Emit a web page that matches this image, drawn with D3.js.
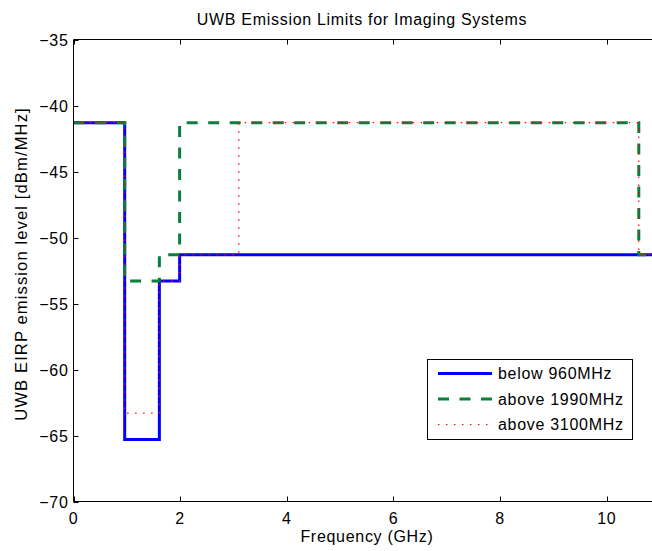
<!DOCTYPE html>
<html>
<head>
<meta charset="utf-8">
<script src="https://cdn.jsdelivr.net/npm/d3@7"></script>
<style>
  body { margin: 0; background: #fff; }
  svg { display: block; font-family: "Liberation Sans", Arial, sans-serif; }
  text { font-size: 16px; letter-spacing: 0.7px; fill: #000; }
</style>
</head>
<body>
<svg id="chart" width="652" height="551"></svg>
<script>
// band edges in GHz (last one = right edge of the axes)
const freqEdges = [0, 0.96, 1.61, 1.99, 3.1, 10.6, 10.86];

// EIRP limit per band, dBm/MHz
const below960 = [-41.3, -65.3, -53.3, -51.3, -51.3, -51.3];
const above1990 = [-41.3, -53.3, -51.3, -41.3, -41.3, -51.3];
const above3100 = [-41.3, -63.3, -53.3, -51.3, -41.3, -51.3];

const seriesNames = ['below 960MHz', 'above 1990MHz', 'above 3100MHz'];
const xTicks = [0, 2, 4, 6, 8, 10];
const yTicks = [-70, -65, -60, -55, -50, -45, -40, -35];

const svg = d3.select('#chart');
const margin = { top: 39.5, left: 73.5, bottom: 501.5 };
const pxPerGHz = 53.33;

const x = d3.scaleLinear()
    .domain([0, 10.86])
    .range([margin.left, margin.left + 10.86 * pxPerGHz]);
const y = d3.scaleLinear()
    .domain([-70, -35])
    .range([margin.bottom, margin.top]);

// step data
const toSteps = vals => {
    const pts = [];
    vals.forEach((v, i) => {
        pts.push([freqEdges[i], v]);
        pts.push([freqEdges[i + 1], v]);
    });
    return pts;
};

const styles = [
    { color: '#0000ff', width: 3, dash: null },
    { color: '#087f3c', width: 3, dash: '11 10.5' },
    { color: '#ff0000', width: 1.2, dash: '1.5 6.5' }
];

const line = d3.line().x(d => x(d[0])).y(d => y(d[1]));

const g = svg.append('g');
[below960, above1990, above3100].forEach((vals, i) => {
    g.append('path')
        .datum(toSteps(vals))
        .attr('d', line)
        .attr('fill', 'none')
        .attr('stroke', styles[i].color)
        .attr('stroke-width', styles[i].width)
        .attr('stroke-dasharray', styles[i].dash);
});

// axes box
const xEnd = 652;
svg.append('line').attr('x1', margin.left).attr('x2', xEnd)
    .attr('y1', margin.bottom).attr('y2', margin.bottom).attr('stroke', '#000');
svg.append('line').attr('x1', margin.left).attr('x2', xEnd)
    .attr('y1', margin.top).attr('y2', margin.top).attr('stroke', '#000');
svg.append('line').attr('x1', margin.left).attr('x2', margin.left)
    .attr('y1', margin.top).attr('y2', margin.bottom).attr('stroke', '#000');

// ticks
xTicks.forEach(v => {
    const px = Math.round(x(v)) + 0.5;
    svg.append('line').attr('x1', px).attr('x2', px)
        .attr('y1', margin.bottom).attr('y2', margin.bottom - 5).attr('stroke', '#000');
    svg.append('line').attr('x1', px).attr('x2', px)
        .attr('y1', margin.top).attr('y2', margin.top + 5).attr('stroke', '#000');
    svg.append('text')
        .attr('x', x(v)).attr('y', 523.5)
        .attr('text-anchor', 'middle')
        .text(v);
});

yTicks.forEach(v => {
    const py = Math.round(y(v)) + 0.5;
    svg.append('line').attr('x1', margin.left).attr('x2', margin.left + 5)
        .attr('y1', py).attr('y2', py).attr('stroke', '#000');
    svg.append('text')
        .attr('x', margin.left - 5).attr('y', y(v) + 6.5)
        .attr('text-anchor', 'end')
        .text(String(v).replace('-', '\u2212'));
});

// labels
svg.append('text')
    .attr('x', 362).attr('y', 25)
    .attr('text-anchor', 'middle')
    .text('UWB Emission Limits for Imaging Systems');

svg.append('text')
    .attr('x', 367).attr('y', 542)
    .attr('text-anchor', 'middle')
    .text('Frequency (GHz)');

svg.append('text')
    .attr('transform', 'translate(27,264) rotate(-90)')
    .attr('text-anchor', 'middle')
    .style('font-size', '16.6px')
    .style('letter-spacing', '1.1px')
    .text('UWB EIRP emission level [dBm/MHz]');

// legend
const leg = svg.append('g');
leg.append('rect')
    .attr('x', 427.5).attr('y', 359.5)
    .attr('width', 205).attr('height', 80)
    .attr('fill', '#fff').attr('stroke', '#000');

seriesNames.forEach((name, i) => {
    const ly = 373.5 + i * 25.5;
    leg.append('line')
        .attr('x1', 438).attr('x2', 492)
        .attr('y1', ly).attr('y2', ly)
        .attr('stroke', styles[i].color)
        .attr('stroke-width', styles[i].width)
        .attr('stroke-dasharray', styles[i].dash);
    leg.append('text')
        .attr('x', 498).attr('y', ly + 5.5)
        .text(name);
});
</script>
</body>
</html>
